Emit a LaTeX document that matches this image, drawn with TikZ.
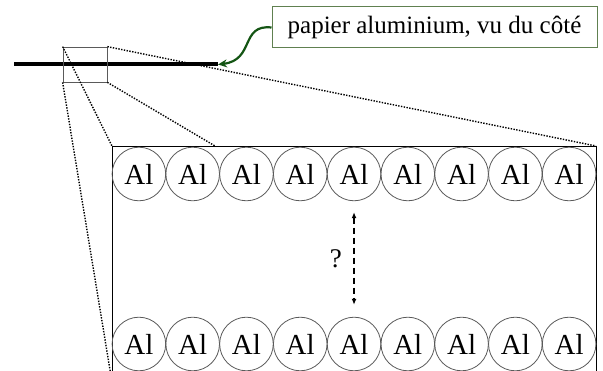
\documentclass[tikz,border=0pt]{standalone}
\usepackage{fontspec}
\setmainfont{Liberation Serif}
\usetikzlibrary{positioning}
\usetikzlibrary{calc}
\usetikzlibrary{arrows.meta}
\definecolor{boxgreen}{RGB}{96,128,80}
\definecolor{arrowgreen}{RGB}{20,85,20}
\definecolor{atomgray}{RGB}{90,90,90}
\begin{document}
\begin{tikzpicture}[x=1pt, y=-1pt, >=Latex,
    atom/.style={draw=atomgray, line width=0.8pt, circle, minimum size=53.6pt, inner sep=0pt, font=\fontsize{29}{32}\selectfont},
    zoomline/.style={line width=1.4pt, dash pattern=on 1.4pt off 1.4pt}]
    \useasboundingbox (0,0) rectangle (603,371);
    % foil seen from the side
    \coordinate (foilL) at (14,64.5);
    \coordinate (foilR) at (218,64.5);
    \draw[line width=4pt] (foilL) -- (foilR);
    \node[draw=atomgray, line width=0.7pt, minimum width=44pt, minimum height=35pt, inner sep=0pt] (zoom) at (85,64.5) {};
    \node[draw=boxgreen, line width=1pt, minimum width=325pt, minimum height=41pt, inner sep=0pt, font=\fontsize{25}{28}\selectfont] (label) at (434.5,27.5) {papier aluminium, vu du côté};
    \draw[arrowgreen, line width=2.2pt, -{Stealth[length=9pt,width=8pt]}] (label.west) .. controls (240,24) and (255,60) .. (foilR);
    % enlarged frame
    \coordinate (fTL) at (112,146);
    \coordinate (fTR) at (596,146);
    \coordinate (fT2) at (215,146);
    \coordinate (fBL) at (112,382);
    \coordinate (fBR) at (596,382);
    \draw[line width=0.9pt] (fBL) -- (fTL) -- (fTR) -- (fBR);
    \draw[zoomline] (zoom.north west) -- (fTL);
    \draw[zoomline] (zoom.north east) -- (fTR);
    \draw[zoomline] (zoom.south east) -- (fT2);
    \draw[zoomline] (zoom.south west) -- (fBL);
    % two rows of atoms
    \foreach \i in {0,...,8} {
        \node[atom] (top\i) at ({138.9+53.78*\i},174) {Al};
        \node[atom] (bot\i) at ({138.9+53.78*\i},344) {Al};
    }
    \coordinate (gapT) at ($(top4.south)+(0,11)$);
    \coordinate (gapB) at ($(bot4.north)+(0,-12)$);
    \draw[{Latex[length=6pt,width=5pt]}-{Latex[length=6pt,width=5pt]}, line width=1.5pt, dash pattern=on 6pt off 4pt] (gapT) -- (gapB);
    \node[font=\fontsize{27}{30}\selectfont, inner sep=0pt, left=12pt of $(gapT)!0.5!(gapB)$] (question) {?};
\end{tikzpicture}
\end{document}
